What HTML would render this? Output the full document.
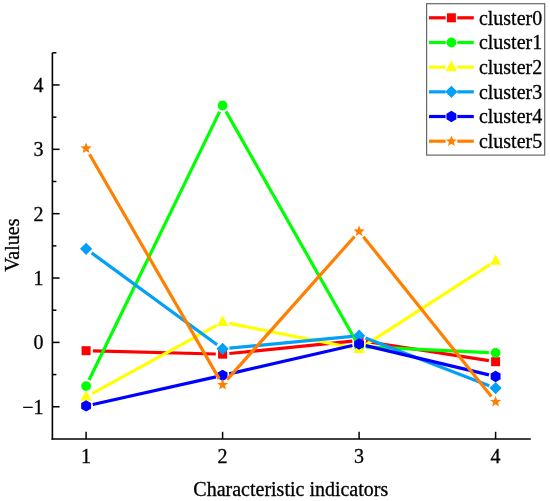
<!DOCTYPE html>
<html><head><meta charset="utf-8"><style>
html,body{margin:0;padding:0;background:#fff;}
svg{display:block;will-change:transform;}
.t{font-family:"Liberation Serif",serif;font-size:20px;fill:#000;stroke:#000;stroke-width:0.3px;}
</style></head><body>
<svg width="550" height="501" viewBox="0 0 550 501">
<rect width="550" height="501" fill="#fff"/>
<line x1="52.4" y1="52.78" x2="52.4" y2="439.80" stroke="#000" stroke-width="1.6"/>
<line x1="51.60" y1="439.0" x2="530.8" y2="439.0" stroke="#000" stroke-width="1.6"/>
<line x1="52.40" y1="406.76" x2="59.60" y2="406.76" stroke="#000" stroke-width="1.5"/>
<line x1="52.40" y1="374.58" x2="56.40" y2="374.58" stroke="#000" stroke-width="1.5"/>
<line x1="52.40" y1="342.40" x2="59.60" y2="342.40" stroke="#000" stroke-width="1.5"/>
<line x1="52.40" y1="310.22" x2="56.40" y2="310.22" stroke="#000" stroke-width="1.5"/>
<line x1="52.40" y1="278.04" x2="59.60" y2="278.04" stroke="#000" stroke-width="1.5"/>
<line x1="52.40" y1="245.86" x2="56.40" y2="245.86" stroke="#000" stroke-width="1.5"/>
<line x1="52.40" y1="213.68" x2="59.60" y2="213.68" stroke="#000" stroke-width="1.5"/>
<line x1="52.40" y1="181.50" x2="56.40" y2="181.50" stroke="#000" stroke-width="1.5"/>
<line x1="52.40" y1="149.32" x2="59.60" y2="149.32" stroke="#000" stroke-width="1.5"/>
<line x1="52.40" y1="117.14" x2="56.40" y2="117.14" stroke="#000" stroke-width="1.5"/>
<line x1="52.40" y1="84.96" x2="59.60" y2="84.96" stroke="#000" stroke-width="1.5"/>
<line x1="52.40" y1="52.78" x2="56.40" y2="52.78" stroke="#000" stroke-width="1.5"/>
<line x1="86.10" y1="439.0" x2="86.10" y2="431.80" stroke="#000" stroke-width="1.5"/>
<line x1="222.60" y1="439.0" x2="222.60" y2="431.80" stroke="#000" stroke-width="1.5"/>
<line x1="359.10" y1="439.0" x2="359.10" y2="431.80" stroke="#000" stroke-width="1.5"/>
<line x1="495.60" y1="439.0" x2="495.60" y2="431.80" stroke="#000" stroke-width="1.5"/>
<text x="43.6" y="413.66" text-anchor="end" class="t">−1</text>
<text x="43.6" y="349.30" text-anchor="end" class="t">0</text>
<text x="43.6" y="284.94" text-anchor="end" class="t">1</text>
<text x="43.6" y="220.58" text-anchor="end" class="t">2</text>
<text x="43.6" y="156.22" text-anchor="end" class="t">3</text>
<text x="43.6" y="91.86" text-anchor="end" class="t">4</text>
<text x="86.10" y="462.9" text-anchor="middle" class="t">1</text>
<text x="222.60" y="462.9" text-anchor="middle" class="t">2</text>
<text x="359.10" y="462.9" text-anchor="middle" class="t">3</text>
<text x="495.60" y="462.9" text-anchor="middle" class="t">4</text>
<text x="290.8" y="496" text-anchor="middle" class="t" style="font-size:20px">Characteristic indicators</text>
<text transform="translate(19,245.2) rotate(-90)" text-anchor="middle" class="t" style="font-size:20px">Values</text>
<line x1="92.90" y1="350.88" x2="215.80" y2="354.00" stroke="#FF0000" stroke-width="3.2"/>
<line x1="229.37" y1="353.50" x2="352.33" y2="341.15" stroke="#FF0000" stroke-width="3.2"/>
<line x1="365.82" y1="341.51" x2="488.88" y2="360.66" stroke="#FF0000" stroke-width="3.2"/>
<rect x="81.60" y="346.20" width="9.0" height="9.0" fill="#FF0000"/>
<rect x="218.10" y="349.68" width="9.0" height="9.0" fill="#FF0000"/>
<rect x="354.60" y="335.97" width="9.0" height="9.0" fill="#FF0000"/>
<rect x="491.10" y="357.21" width="9.0" height="9.0" fill="#FF0000"/>
<line x1="89.07" y1="379.99" x2="219.63" y2="111.61" stroke="#00FF00" stroke-width="3.2"/>
<line x1="225.95" y1="111.41" x2="355.75" y2="340.67" stroke="#00FF00" stroke-width="3.2"/>
<line x1="365.89" y1="346.90" x2="488.81" y2="352.58" stroke="#00FF00" stroke-width="3.2"/>
<circle cx="86.10" cy="386.10" r="4.9" fill="#00FF00"/>
<circle cx="222.60" cy="105.49" r="4.9" fill="#00FF00"/>
<circle cx="359.10" cy="346.58" r="4.9" fill="#00FF00"/>
<circle cx="495.60" cy="352.89" r="4.9" fill="#00FF00"/>
<line x1="92.06" y1="393.71" x2="216.64" y2="325.40" stroke="#FFFF00" stroke-width="3.2"/>
<line x1="229.27" y1="323.44" x2="352.43" y2="347.78" stroke="#FFFF00" stroke-width="3.2"/>
<line x1="364.81" y1="345.41" x2="489.89" y2="264.67" stroke="#FFFF00" stroke-width="3.2"/>
<polygon points="86.10,390.38 91.80,400.78 80.40,400.78" fill="#FFFF00"/>
<polygon points="222.60,315.53 228.30,325.93 216.90,325.93" fill="#FFFF00"/>
<polygon points="359.10,342.49 364.80,352.89 353.40,352.89" fill="#FFFF00"/>
<polygon points="495.60,254.38 501.30,264.78 489.90,264.78" fill="#FFFF00"/>
<line x1="91.59" y1="252.84" x2="217.11" y2="344.82" stroke="#03A0F8" stroke-width="3.2"/>
<line x1="229.37" y1="348.18" x2="352.33" y2="336.30" stroke="#03A0F8" stroke-width="3.2"/>
<line x1="365.45" y1="338.08" x2="489.25" y2="385.66" stroke="#03A0F8" stroke-width="3.2"/>
<polygon points="86.10,242.72 92.20,248.82 86.10,254.92 80.00,248.82" fill="#03A0F8"/>
<polygon points="222.60,342.74 228.70,348.84 222.60,354.94 216.50,348.84" fill="#03A0F8"/>
<polygon points="359.10,329.54 365.20,335.64 359.10,341.74 353.00,335.64" fill="#03A0F8"/>
<polygon points="495.60,382.00 501.70,388.10 495.60,394.20 489.50,388.10" fill="#03A0F8"/>
<line x1="92.74" y1="404.44" x2="215.96" y2="376.90" stroke="#0000FF" stroke-width="3.2"/>
<line x1="229.23" y1="373.89" x2="352.47" y2="345.53" stroke="#0000FF" stroke-width="3.2"/>
<line x1="365.72" y1="345.58" x2="488.98" y2="374.87" stroke="#0000FF" stroke-width="3.2"/>
<polygon points="86.10,400.22 91.04,403.07 91.04,408.77 86.10,411.62 81.16,408.77 81.16,403.07" fill="#0000FF"/>
<polygon points="222.60,369.72 227.54,372.57 227.54,378.27 222.60,381.12 217.66,378.27 217.66,372.57" fill="#0000FF"/>
<polygon points="359.10,338.31 364.04,341.16 364.04,346.86 359.10,349.71 354.16,346.86 354.16,341.16" fill="#0000FF"/>
<polygon points="495.60,370.75 500.54,373.60 500.54,379.30 495.60,382.15 490.66,379.30 490.66,373.60" fill="#0000FF"/>
<line x1="89.50" y1="154.24" x2="219.20" y2="378.86" stroke="#FF8000" stroke-width="3.2"/>
<line x1="227.12" y1="379.67" x2="354.58" y2="236.46" stroke="#FF8000" stroke-width="3.2"/>
<line x1="363.35" y1="236.69" x2="491.35" y2="396.50" stroke="#FF8000" stroke-width="3.2"/>
<polygon points="86.10,142.55 87.60,146.29 91.62,146.56 88.53,149.14 89.51,153.05 86.10,150.91 82.69,153.05 83.67,149.14 80.58,146.56 84.60,146.29" fill="#FF8000"/>
<polygon points="222.60,378.95 224.10,382.68 228.12,382.96 225.03,385.54 226.01,389.44 222.60,387.30 219.19,389.44 220.17,385.54 217.08,382.96 221.10,382.68" fill="#FF8000"/>
<polygon points="359.10,225.58 360.60,229.31 364.62,229.59 361.53,232.17 362.51,236.07 359.10,233.93 355.69,236.07 356.67,232.17 353.58,229.59 357.60,229.31" fill="#FF8000"/>
<polygon points="495.60,396.00 497.10,399.74 501.12,400.01 498.03,402.59 499.01,406.50 495.60,404.36 492.19,406.50 493.17,402.59 490.08,400.01 494.10,399.74" fill="#FF8000"/>
<rect x="426.6" y="3.7" width="118.10" height="151.40" fill="#fff" stroke="#666" stroke-width="1.2"/>
<line x1="429" y1="17.80" x2="445.6" y2="17.80" stroke="#FF0000" stroke-width="3.2"/>
<line x1="457.3" y1="17.80" x2="473.8" y2="17.80" stroke="#FF0000" stroke-width="3.2"/>
<rect x="446.90" y="13.30" width="9.0" height="9.0" fill="#FF0000"/>
<text x="478.9" y="24.70" class="t" style="font-size:20px">cluster0</text>
<line x1="429" y1="42.48" x2="445.6" y2="42.48" stroke="#00FF00" stroke-width="3.2"/>
<line x1="457.3" y1="42.48" x2="473.8" y2="42.48" stroke="#00FF00" stroke-width="3.2"/>
<circle cx="451.40" cy="42.48" r="4.9" fill="#00FF00"/>
<text x="478.9" y="49.38" class="t" style="font-size:20px">cluster1</text>
<line x1="429" y1="67.16" x2="445.6" y2="67.16" stroke="#FFFF00" stroke-width="3.2"/>
<line x1="457.3" y1="67.16" x2="473.8" y2="67.16" stroke="#FFFF00" stroke-width="3.2"/>
<polygon points="451.40,60.56 457.10,70.96 445.70,70.96" fill="#FFFF00"/>
<text x="478.9" y="74.06" class="t" style="font-size:20px">cluster2</text>
<line x1="429" y1="91.84" x2="445.6" y2="91.84" stroke="#03A0F8" stroke-width="3.2"/>
<line x1="457.3" y1="91.84" x2="473.8" y2="91.84" stroke="#03A0F8" stroke-width="3.2"/>
<polygon points="451.40,85.74 457.50,91.84 451.40,97.94 445.30,91.84" fill="#03A0F8"/>
<text x="478.9" y="98.74" class="t" style="font-size:20px">cluster3</text>
<line x1="429" y1="116.52" x2="445.6" y2="116.52" stroke="#0000FF" stroke-width="3.2"/>
<line x1="457.3" y1="116.52" x2="473.8" y2="116.52" stroke="#0000FF" stroke-width="3.2"/>
<polygon points="451.40,110.82 456.34,113.67 456.34,119.37 451.40,122.22 446.46,119.37 446.46,113.67" fill="#0000FF"/>
<text x="478.9" y="123.42" class="t" style="font-size:20px">cluster4</text>
<line x1="429" y1="141.20" x2="445.6" y2="141.20" stroke="#FF8000" stroke-width="3.2"/>
<line x1="457.3" y1="141.20" x2="473.8" y2="141.20" stroke="#FF8000" stroke-width="3.2"/>
<polygon points="451.40,135.40 452.90,139.14 456.92,139.41 453.83,141.99 454.81,145.89 451.40,143.75 447.99,145.89 448.97,141.99 445.88,139.41 449.90,139.14" fill="#FF8000"/>
<text x="478.9" y="148.10" class="t" style="font-size:20px">cluster5</text>
</svg>
</body></html>
